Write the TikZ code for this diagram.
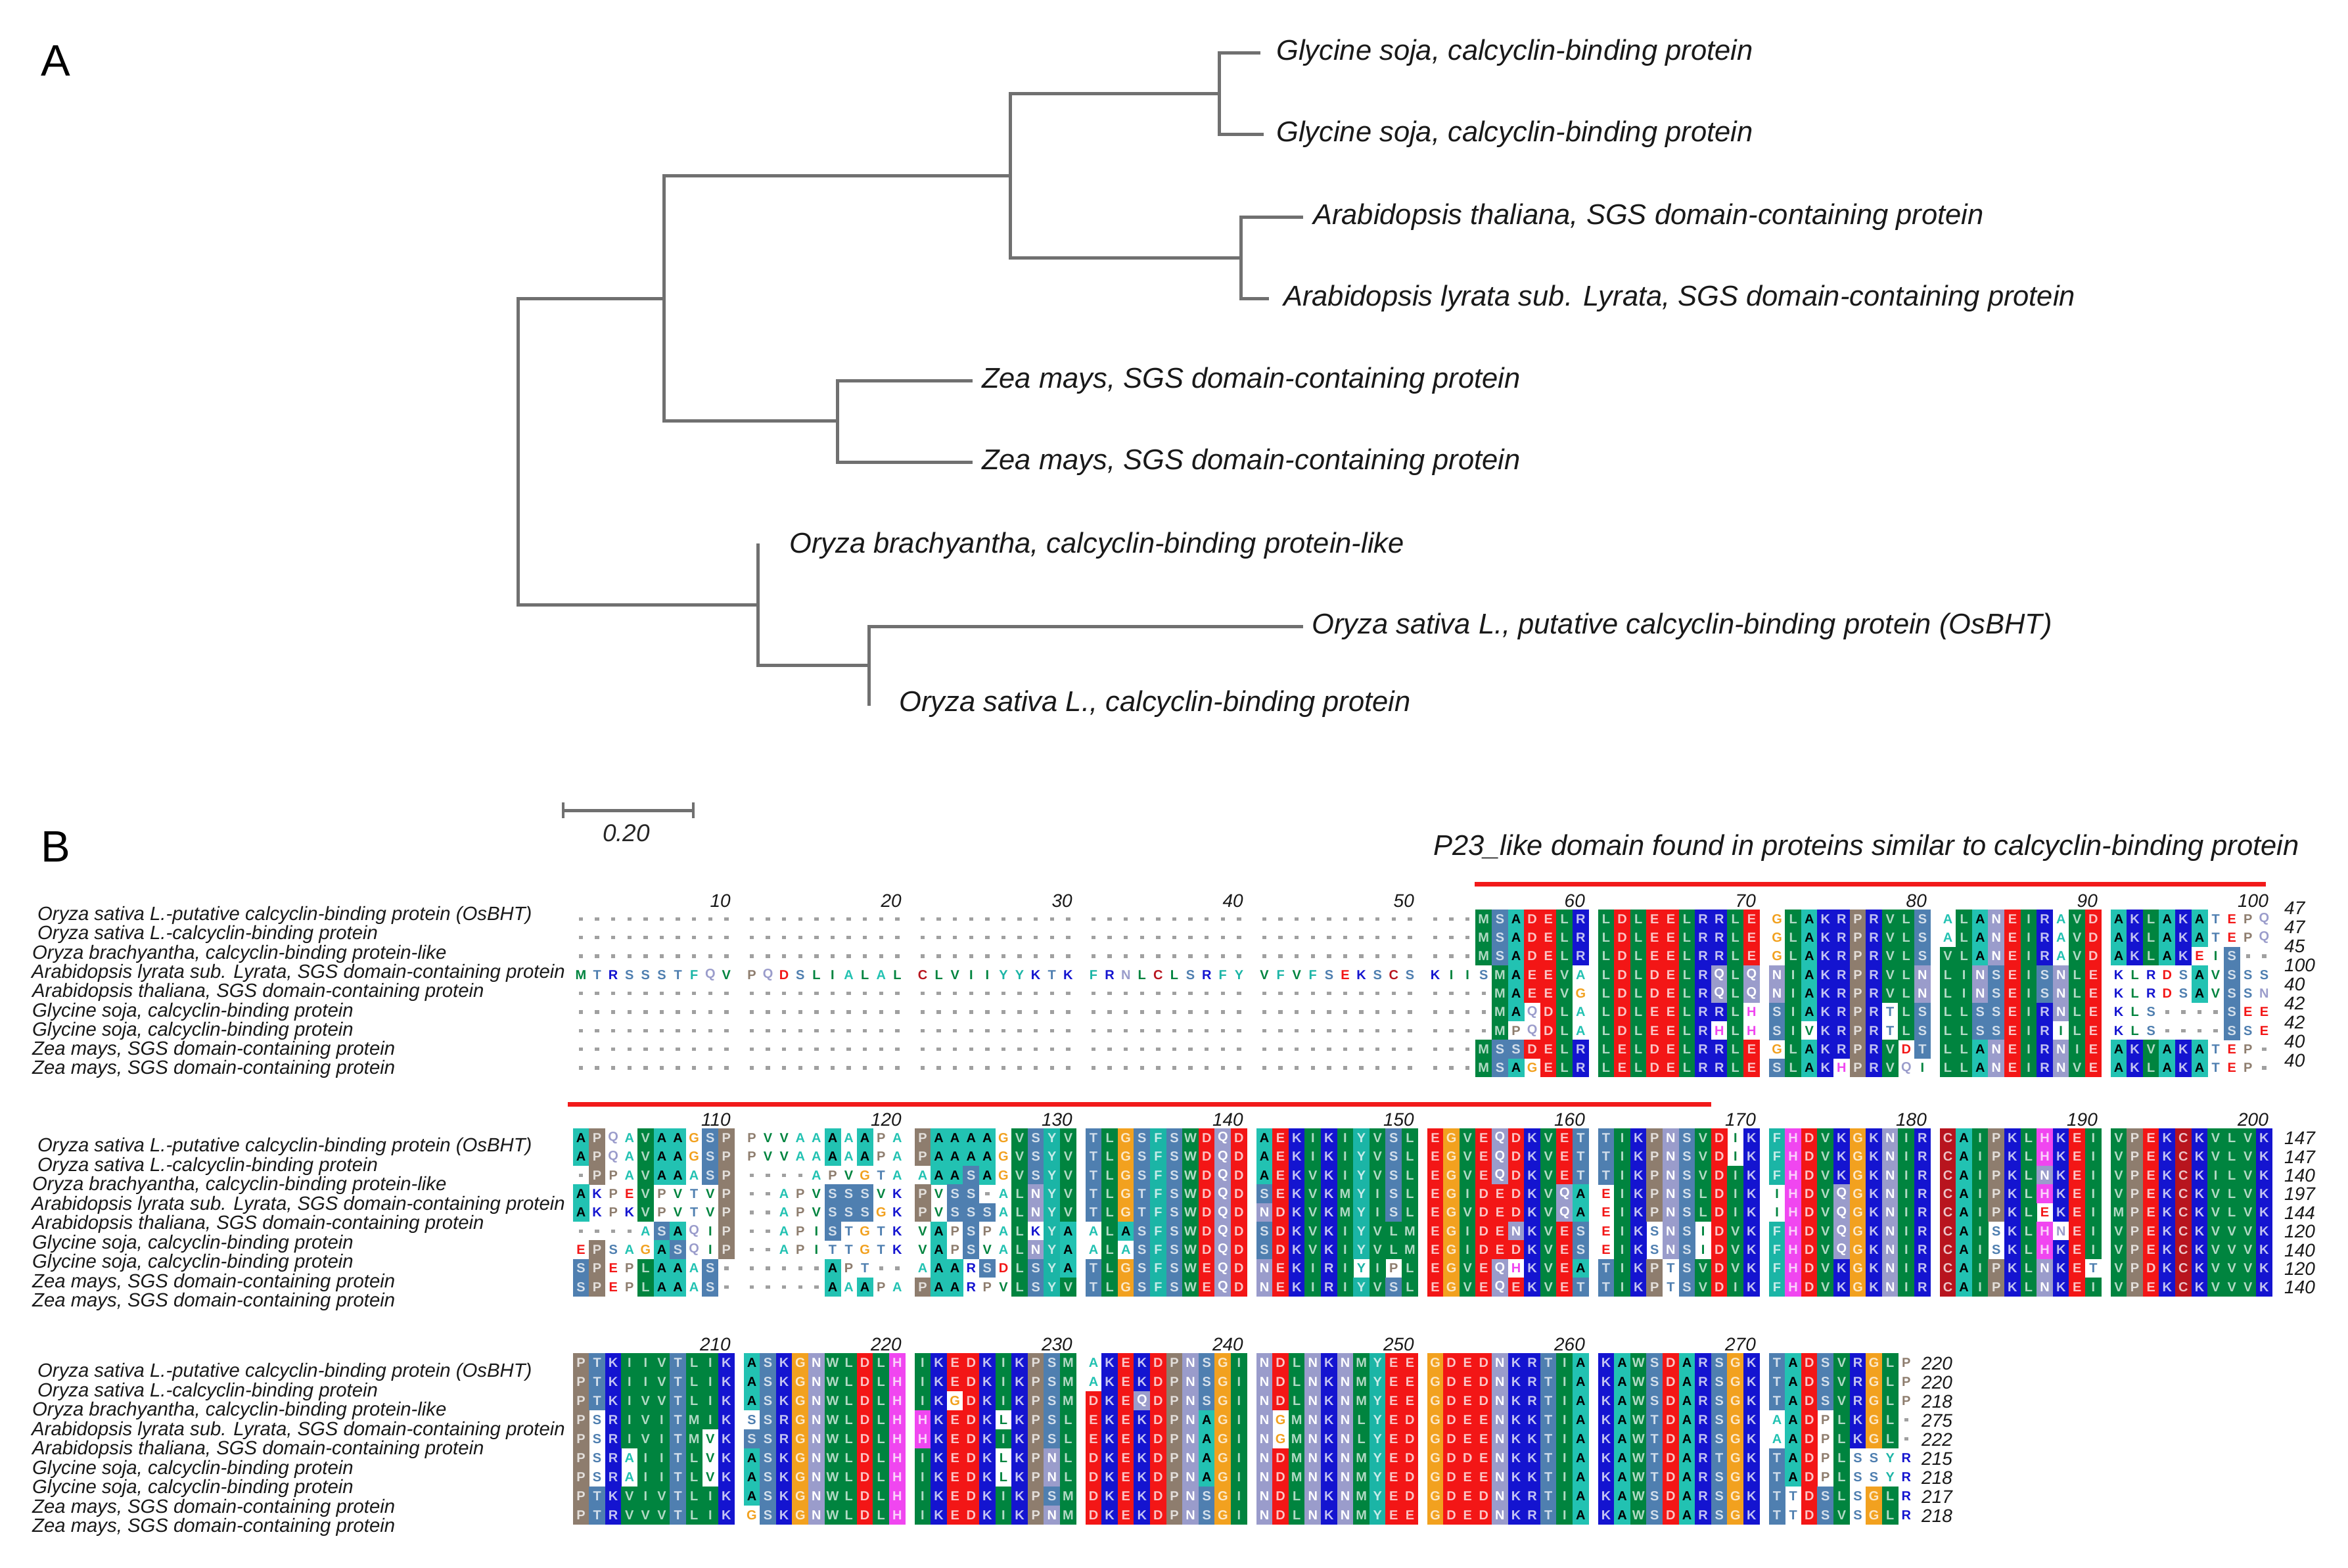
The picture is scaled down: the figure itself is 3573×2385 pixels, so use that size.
\documentclass[tikz,border=0pt]{standalone}
\usepackage{fontspec}
\setmainfont{Liberation Sans}
\definecolor{treegray}{HTML}{707070}
\definecolor{gapc}{HTML}{A0A0A0}
\definecolor{domred}{HTML}{F21A1A}
% residue class colours
\definecolor{resA}{HTML}{22C2B2}
\definecolor{resF}{HTML}{1BB5A6}
\definecolor{resY}{HTML}{1BB5A6}
\definecolor{resL}{HTML}{00843F}
\definecolor{resV}{HTML}{00843F}
\definecolor{resI}{HTML}{00843F}
\definecolor{resM}{HTML}{00843F}
\definecolor{resW}{HTML}{00843F}
\definecolor{resS}{HTML}{4F7FB0}
\definecolor{resT}{HTML}{4F7FB0}
\definecolor{resN}{HTML}{9A9CCB}
\definecolor{resQ}{HTML}{9A9CCB}
\definecolor{resD}{HTML}{F31616}
\definecolor{resE}{HTML}{F31616}
\definecolor{resK}{HTML}{1414D0}
\definecolor{resR}{HTML}{1414D0}
\definecolor{resG}{HTML}{F2A11F}
\definecolor{resP}{HTML}{8E7D6E}
\definecolor{resH}{HTML}{F046F0}
\definecolor{resC}{HTML}{B8141E}
\colorlet{ltA}{black}
\colorlet{ltF}{resF!25!white}
\colorlet{ltY}{resY!25!white}
\colorlet{ltL}{resL!30!white}
\colorlet{ltV}{resV!30!white}
\colorlet{ltI}{resI!30!white}
\colorlet{ltM}{resM!30!white}
\colorlet{ltW}{resW!30!white}
\colorlet{ltS}{resS!25!white}
\colorlet{ltT}{resT!25!white}
\colorlet{ltN}{white}
\colorlet{ltQ}{white}
\colorlet{ltD}{resD!25!white}
\colorlet{ltE}{resE!25!white}
\colorlet{ltK}{resK!25!white}
\colorlet{ltR}{resR!25!white}
\colorlet{ltG}{resG!25!white}
\colorlet{ltP}{resP!25!white}
\colorlet{ltH}{resH!25!white}
\colorlet{ltC}{resC!25!white}

\newcount\alc
\newcommand\alrow[3]{\global\alc=0\relax\def\rowy{#1}\def\rowid{#2}\alscan#3\relax}
\def\alscan#1{\ifx#1\relax\else\alcell{#1}\expandafter\alscan\fi}
\def\alcell#1{%
  \pgfmathsetmacro\cx{884+int(\the\alc/10)*260+mod(\the\alc,10)*24.6}%
  \if-#1%
    \fill[gapc] (\cx-3.2,\rowy-2.6) rectangle (\cx+3.2,\rowy+2.6);%
  \else
    \uppercase{\def\rl{#1}}%
    \edef\fc{res\rl}%
    \ifnum\uccode`#1=`#1\relax
      \edef\tc{lt\rl}%
      \fill[fill=\fc] (\cx-12.5,\rowy-14.4) rectangle (\cx+12.5,\rowy+14.4);%
    \else
      \edef\tc{res\rl}%
    \fi
    \node[reslet,text=\tc] (\rowid-\the\alc) at (\cx,\rowy) {\rl};%
  \fi
  \global\advance\alc by 1\relax}

\newcommand\seqnameblock[3]{%
  \node[seqname] (#1n1) at (57,#2) {Oryza sativa L.-putative calcyclin-binding protein (OsBHT)};
  \node[seqname] (#1n2) at (57,#2+1*#3) {Oryza sativa L.-calcyclin-binding protein};
  \node[seqname] (#1n3) at (49,#2+2*#3) {Oryza brachyantha, calcyclin-binding protein-like};
  \node[seqname] (#1n4) at (48,#2+3*#3) {Arabidopsis lyrata sub. Lyrata, SGS domain-containing protein};
  \node[seqname] (#1n5) at (49,#2+4*#3) {Arabidopsis thaliana, SGS domain-containing protein};
  \node[seqname] (#1n6) at (49,#2+5*#3) {Glycine soja, calcyclin-binding protein};
  \node[seqname] (#1n7) at (49,#2+6*#3) {Glycine soja, calcyclin-binding protein};
  \node[seqname] (#1n8) at (49,#2+7*#3) {Zea mays, SGS domain-containing protein};
  \node[seqname] (#1n9) at (49,#2+8*#3) {Zea mays, SGS domain-containing protein};
}

\begin{document}
\begin{tikzpicture}[x=1pt,y=-1pt,
  treeline/.style={line width=5pt,draw=treegray,line cap=rect},
  treelab/.style={font=\fontsize{43.5}{50}\selectfont\itshape,anchor=west,inner sep=0pt,text=black!90},
  seqname/.style={font=\fontsize{29.3}{30}\selectfont\itshape,anchor=west,inner sep=0pt,text=black!90},
  posnum/.style={font=\fontsize{28}{28}\selectfont\itshape,anchor=base east,inner sep=0pt,text=black!90},
  endnum/.style={font=\fontsize{28}{28}\selectfont\itshape,anchor=west,inner sep=0pt,text=black!90},
  panellab/.style={font=\fontsize{67}{67}\selectfont,inner sep=0pt},
  reslet/.style={font=\fontsize{20}{20}\selectfont\bfseries,inner sep=0pt},
  domline/.style={line width=7pt,draw=domred}]
\useasboundingbox (0,0) rectangle (3573,2385);
\fill[white] (0,0) rectangle (3573,2385);

% ---------------- Panel A: tree ----------------
\node[panellab] (labA) at (85,92) {A};
\coordinate (root) at (788,686);
\coordinate (up) at (1010,454);
\coordinate (ga) at (1537,267);
\coordinate (gly) at (1855,142);
\coordinate (gly1) at (1915,80.3);
\coordinate (gly2) at (1920,204);
\coordinate (arb) at (1888,392.5);
\coordinate (ath) at (1980,330.2);
\coordinate (aly) at (1928,454.2);
\coordinate (zea) at (1274,640.6);
\coordinate (zea1) at (1477,579);
\coordinate (zea2) at (1477,703);
\coordinate (ory) at (1153,920);
\coordinate (obr) at (1153,829);
\coordinate (osn) at (1322,1012);
\coordinate (os1) at (1980,953);
\coordinate (os2) at (1322,1071);
\draw[treeline] (root) |- (up);
\draw[treeline] (root) |- (ory);
\draw[treeline] (up) |- (ga);
\draw[treeline] (up) |- (zea);
\draw[treeline] (ga) |- (gly);
\draw[treeline] (ga) |- (arb);
\draw[treeline] (gly) |- (gly1);
\draw[treeline] (gly) |- (gly2);
\draw[treeline] (arb) |- (ath);
\draw[treeline] (arb) |- (aly);
\draw[treeline] (zea) |- (zea1);
\draw[treeline] (zea) |- (zea2);
\draw[treeline] (ory) |- (obr);
\draw[treeline] (ory) |- (osn);
\draw[treeline] (osn) |- (os1);
\draw[treeline] (osn) |- (os2);
\node[treelab] (Lgly1) at (1942,80.3) {Glycine soja, calcyclin-binding protein};
\node[treelab] (Lgly2) at (1942,204) {Glycine soja, calcyclin-binding protein};
\node[treelab] (Lath) at (1998,330.2) {Arabidopsis thaliana, SGS domain-containing protein};
\node[treelab] (Laly) at (1953,454.2) {Arabidopsis lyrata sub. Lyrata, SGS domain-containing protein};
\node[treelab] (Lzea1) at (1494,579) {Zea mays, SGS domain-containing protein};
\node[treelab] (Lzea2) at (1494,703) {Zea mays, SGS domain-containing protein};
\node[treelab] (Lobr) at (1201,830) {Oryza brachyantha, calcyclin-binding protein-like};
\node[treelab] (Los1) at (1996,953) {Oryza sativa L., putative calcyclin-binding protein (OsBHT)};
\node[treelab] (Los2) at (1368,1071) {Oryza sativa L., calcyclin-binding protein};

% scale bar
\coordinate (sb1) at (857,1233);
\coordinate (sb2) at (1055,1233);
\draw[treeline,line cap=butt] (sb1) -- (sb2);
\draw[treeline,line width=4pt,line cap=butt] ([yshift=-12pt]sb1) -- ([yshift=12pt]sb1);
\draw[treeline,line width=4pt,line cap=butt] ([yshift=-12pt]sb2) -- ([yshift=12pt]sb2);
\node[font=\fontsize{37}{37}\selectfont\itshape,inner sep=0pt,text=black!85] (sbl) at (953,1268) {0.20};

% ---------------- Panel B: alignment ----------------
\node[panellab] (labB) at (85,1288) {B};
\node[treelab] (dom) at (2181,1290) {P23\_like domain found in proteins similar to calcyclin-binding protein};
\coordinate (r1a) at (2244,1345);
\coordinate (r1b) at (3448,1345);
\draw[domline] (r1a) -- (r1b);
\coordinate (r2a) at (864,1680);
\coordinate (r2b) at (2604,1680);
\draw[domline] (r2a) -- (r2b);

% position numbers
\foreach \g in {0,...,9}{\pgfmathtruncatemacro\num{(\g+1)*10}\node[posnum] (pa\g) at (1112+260*\g,1380) {\num};}
\foreach \g in {0,...,9}{\pgfmathtruncatemacro\num{110+\g*10}\node[posnum] (pb\g) at (1112+260*\g,1713) {\num};}
\foreach \g in {0,...,6}{\pgfmathtruncatemacro\num{210+\g*10}\node[posnum] (pc\g) at (1112+260*\g,2055) {\num};}

% names
\seqnameblock{A}{1393}{29.3}
\seqnameblock{B}{1745}{29.5}
\seqnameblock{C}{2088}{29.5}

% block 1
\alrow{1398.3}{a1}{---------- ---------- ---------- ---------- ---------- ---MSADELR LDLEELRRLE gLAKRPRVLS aLANEIRaVD AKLAKAtepq}
\alrow{1426.6}{a2}{---------- ---------- ---------- ---------- ---------- ---MSADELR LDLEELRRLE gLAKRPRVLS aLANEIRaVD AKLAKAtepq}
\alrow{1455.0}{a3}{---------- ---------- ---------- ---------- ---------- ---MSADELR LDLEELRRLE gLAKRPRVLS VLANEIRaVD AKLAKeiS--}
\alrow{1483.3}{a4}{mtrssstfqv pqdslialal clviiyyktk frnlclsrfy vfvfsekscs kiisMAEEVa LDLDELRQLQ NIAKRPRVLN LINSEISNLE klrdsAvSss}
\alrow{1511.6}{a5}{---------- ---------- ---------- ---------- ---------- ----MAEEVg LDLDELRQLQ NIAKRPRVLN LINSEISNLE klrdsAvSsn}
\alrow{1540.0}{a6}{---------- ---------- ---------- ---------- ---------- ----MAqDLa LDLEELRRLh SIAKRPRtLS LLSSEIRNLE kls----See}
\alrow{1568.3}{a7}{---------- ---------- ---------- ---------- ---------- ----MpqDLa LDLEELRhLh SIvKRPRtLS LLSSEIRiLE kls----Sse}
\alrow{1596.6}{a8}{---------- ---------- ---------- ---------- ---------- ---MSSDELR LELDELRRLE gLAKRPRVdT LLANEIRNIE AKVAKAtep-}
\alrow{1625.0}{a9}{---------- ---------- ---------- ---------- ---------- ---MSAgELR LELDELRRLE SLAKhPRVqi LLANEIRNVE AKLAKAtep-}
\foreach \v [count=\i from 0] in {47,47,45,100,40,42,42,40,40}{\node[endnum] (ea\i) at (3476,1382+29*\i) {\v};}

% block 2
\alrow{1731.7}{b1}{APqaVAAgSP pvvaaAaApa PAAAAgVSYV TLGSFSWDQD AEKIKIYVSL EGVEQDKVET TIKPNSVDiK FHDVKGKNIR CAIPKLHKEI VPEKCKVLVK}
\alrow{1760.0}{b2}{APqaVAAgSP pvvaaAaApa PAAAAgVSYV TLGSFSWDQD AEKIKIYVSL EGVEQDKVET TIKPNSVDiK FHDVKGKNIR CAIPKLHKEI VPEKCKVLVK}
\alrow{1788.3}{b3}{-PpaVAAaSP ----apvgta aAASAgVSYV TLGSFSWDQD AEKVKIYVSL EGVEQDKVET TIKPNSVDIK FHDVKGKNIR CAIPKLNKEI VPEKCKILVK}
\alrow{1816.7}{b4}{AkpeVpvtvP --apvSSSvk PvSS-aLNYV TLGTFSWDQD SEKVKMYISL EGIDEDKVQA eIKPNSLDIK iHDVQGKNIR CAIPKLHKEI VPEKCKVLVK}
\alrow{1845.0}{b5}{AkpkVpvtvP --apvSSSgk PvSSSaLNYV TLGTFSWDQD NDKVKMYISL EGVDEDKVQA eIKPNSLDIK iHDVQGKNIR CAIPKLeKEI MPEKCKVLVK}
\alrow{1873.3}{b6}{----aSAqiP --apiStgtk vApSpaLkYA aLASFSWDQD SDKVKIYVLM EGIDENKVES eIKsNSiDVK FHDVQGKNIR CAIsKLHnEI VPEKCKVVVK}
\alrow{1901.7}{b7}{ePsagASqiP --apittgtk vApSvaLNYA aLaSFSWDQD SDKVKIYVLM EGIDEDKVES eIKsNSiDVK FHDVQGKNIR CAIsKLHKEI VPEKCKVVVK}
\alrow{1930.0}{b8}{SPepLAAaS- -----Apt-- aAArSdLSYA TLGSFSWEQD NEKIRIyIpL EGVEQhKVEA TIKPtSVDVK FHDVKGKNIR CAIPKLNKEt VPDKCKVVVK}
\alrow{1958.3}{b9}{SPepLAAaS- -----AaApa PAArpvLSYV TLGSFSWEQD NEKIRIYVSL EGVEQEKVET TIKPtSVDIK FHDVKGKNIR CAIPKLNKEI VPEKCKVVVK}
\foreach \v [count=\i from 0] in {147,147,140,197,144,120,140,120,140}{\node[endnum] (eb\i) at (3476,1732+28.4*\i) {\v};}

% block 3
\alrow{2073.3}{c1}{PTKIIVTLIK ASKGNWLDLH IKEDKIKPSM aKEKDPNSGI NDLNKNMYEE GDEDNKRTIA KAWSDARSGK TADSVRGLp}
\alrow{2102.3}{c2}{PTKIIVTLIK ASKGNWLDLH IKEDKIKPSM aKEKDPNSGI NDLNKNMYEE GDEDNKRTIA KAWSDARSGK TADSVRGLp}
\alrow{2131.3}{c3}{PTKIVVTLIK ASKGNWLDLH IKgDKIKPSM DKEQDPNSGI NDLNKNMYEE GDEDNKRTIA KAWSDARSGK TADSVRGLp}
\alrow{2160.3}{c4}{PsRIVITMIK sSRGNWLDLH HKEDKlKPSL EKEKDPNAGI NgMNKNLYED GDEENKKTIA KAWTDARSGK aADpLKGL-}
\alrow{2189.3}{c5}{PsRIVITMvK SSRGNWLDLH HKEDKIKPSL EKEKDPNAGI NgMNKNLYED GDEENKKTIA KAWTDARSGK aADpLKGL-}
\alrow{2218.3}{c6}{PsRaIITLvK ASKGNWLDLH IKEDKlKPNL DKEKDPNAGI NDMNKNMYED GDDENKKTIA KAWTDARTGK TADpLssyr}
\alrow{2247.3}{c7}{PsRaIITLvK ASKGNWLDLH IKEDKlKPNL DKEKDPNAGI NDMNKNMYED GDEENKKTIA KAWTDARSGK TADpLssyr}
\alrow{2276.3}{c8}{PTKVIVTLIK ASKGNWLDLH IKEDKIKPSM DKEKDPNSGI NDLNKNMYED GDEDNKRTIA KAWSDARSGK TtDSLsGLr}
\alrow{2305.3}{c9}{PTRVVVTLIK gSKGNWLDLH IKEDKIKPNM DKEKDPNSGI NDLNKNMYEE GDEDNKRTIA KAWSDARSGK TtDSVsGLr}
\foreach \v [count=\i from 0] in {220,220,218,275,222,215,218,217,218}{\node[endnum] (ec\i) at (2924,2075+29*\i) {\v};}
\end{tikzpicture}
\end{document}
